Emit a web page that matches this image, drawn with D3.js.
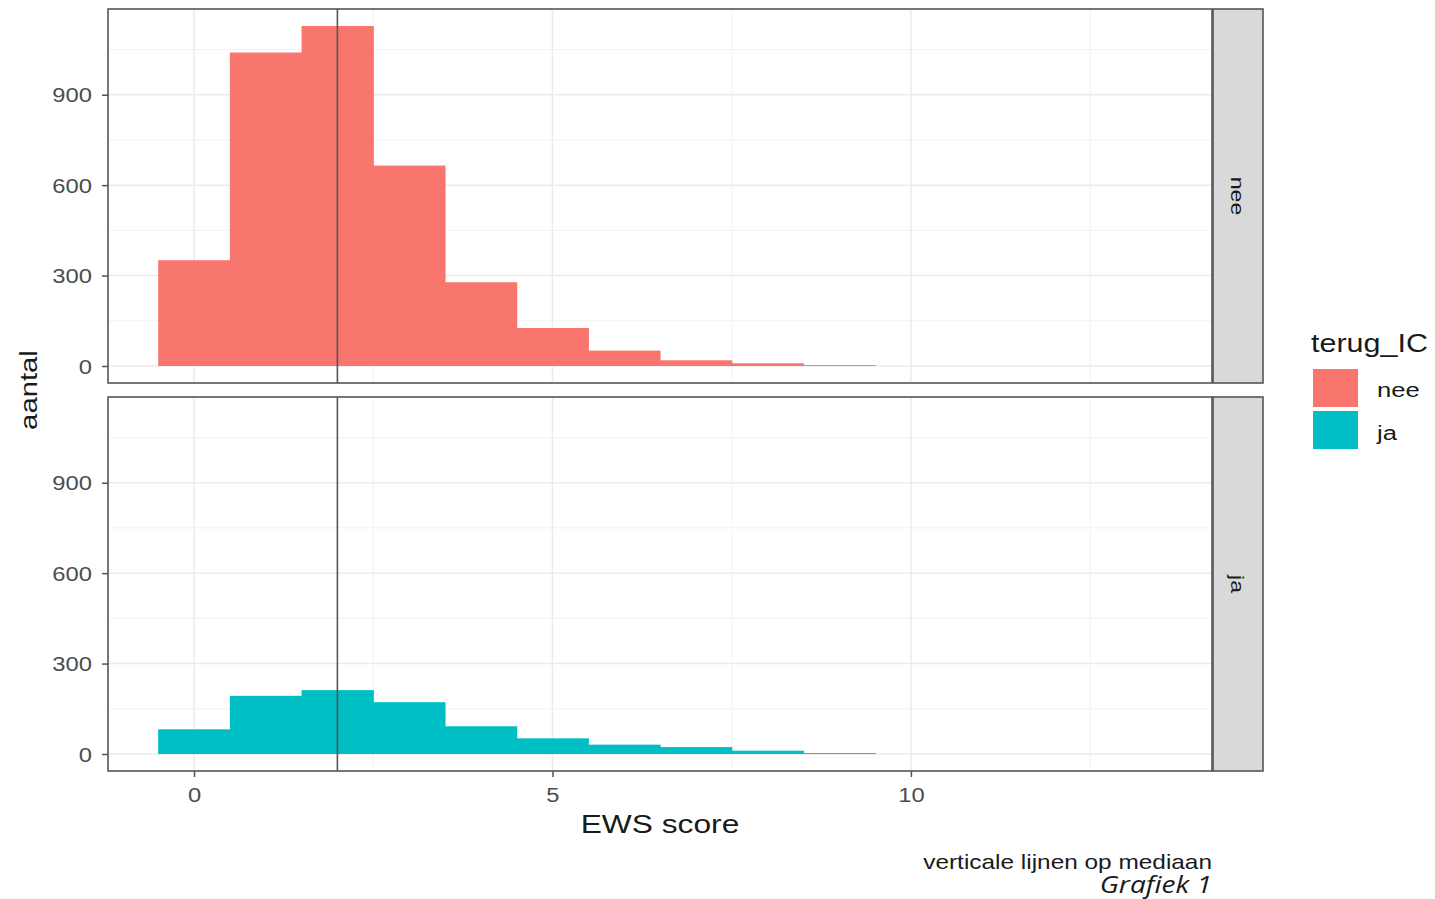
<!DOCTYPE html>
<html>
<head>
<meta charset="utf-8">
<script src="https://cdn.jsdelivr.net/npm/d3@7"></script>
<style>
  body { margin: 0; background: #fff; }
  text { font-family: "Liberation Sans", Arial, sans-serif; }
</style>
</head>
<body>
<div id="chart"></div>
<script>
// EWS score bins (centre of each bin, width 1)
const binCenters = [0, 1, 2, 3, 4, 5, 6, 7, 8, 9, 10, 11, 12, 13];
const neeCounts = [351, 1040, 1128, 665, 278, 126, 51, 19, 9, 3, 0, 0, 0, 0];
const jaCounts = [82, 193, 212, 172, 92, 52, 31, 23, 11, 3, 0, 0, 0, 0];
const groups = ["nee", "ja"];
const groupColors = ["#F8766D", "#00BFC4"];
const medians = [2, 2];
const xTicks = [0, 5, 10];
const yTicks = [0, 300, 600, 900];

const width = 1435, height = 899;
const panelLeft = 108, panelRight = 1212, stripW = 50;
const panelTops = [9, 397], panelH = 374;
const sx = 1.22; // horizontal text stretch seen in the picture

const svg = d3.select("#chart").append("svg")
    .attr("width", width)
    .attr("height", height);

function stretchedText(g, x, y, str, size, anchor, rot) {
    return g.append("text")
        .attr("transform", `translate(${x},${y}) rotate(${rot || 0}) scale(${sx},1)`)
        .attr("text-anchor", anchor)
        .attr("font-size", size)
        .text(str);
}

const x0 = d3.min(binCenters) - 0.5, x1 = d3.max(binCenters) + 0.5;
const xPad = (x1 - x0) * 0.05;
const x = d3.scaleLinear()
    .domain([x0 - xPad, x1 + xPad])
    .range([panelLeft, panelRight]);

const yMax = d3.max(neeCounts.concat(jaCounts));
const yPad = yMax * 0.05;

const series = [neeCounts, jaCounts];

series.forEach((counts, i) => {
    const top = panelTops[i];
    const y = d3.scaleLinear()
        .domain([-yPad, yMax + yPad])
        .range([top + panelH, top]);

    const g = svg.append("g");

    // minor grid
    const xMinor = [2.5, 7.5, 12.5];
    const yMinor = [150, 450, 750, 1050];
    g.selectAll(".xminor").data(xMinor).join("line")
        .attr("x1", d => x(d)).attr("x2", d => x(d))
        .attr("y1", top).attr("y2", top + panelH)
        .attr("stroke", "#f2f2f2").attr("stroke-width", 1);
    g.selectAll(".yminor").data(yMinor).join("line")
        .attr("x1", panelLeft).attr("x2", panelRight)
        .attr("y1", d => y(d)).attr("y2", d => y(d))
        .attr("stroke", "#f2f2f2").attr("stroke-width", 1);
    // major grid
    g.selectAll(".xmajor").data(xTicks).join("line")
        .attr("x1", d => x(d)).attr("x2", d => x(d))
        .attr("y1", top).attr("y2", top + panelH)
        .attr("stroke", "#ebebeb").attr("stroke-width", 1.5);
    g.selectAll(".ymajor").data(yTicks).join("line")
        .attr("x1", panelLeft).attr("x2", panelRight)
        .attr("y1", d => y(d)).attr("y2", d => y(d))
        .attr("stroke", "#ebebeb").attr("stroke-width", 1.5);

    // bars
    g.selectAll("rect.bar")
        .data(binCenters.map((c, j) => ({ c: c, n: counts[j] })).filter(d => d.n > 0))
        .join("rect")
        .attr("class", "bar")
        .attr("x", d => x(d.c - 0.5))
        .attr("width", d => x(d.c + 0.5) - x(d.c - 0.5) + 0.6)
        .attr("y", d => y(d.n))
        .attr("height", d => y(0) - y(d.n))
        .attr("fill", groupColors[i]);

    // median line
    g.append("line")
        .attr("x1", x(medians[i])).attr("x2", x(medians[i]))
        .attr("y1", top).attr("y2", top + panelH)
        .attr("stroke", "#555").attr("stroke-width", 1.6);

    // panel border
    g.append("rect")
        .attr("x", panelLeft).attr("y", top)
        .attr("width", panelRight - panelLeft).attr("height", panelH)
        .attr("fill", "none").attr("stroke", "#555").attr("stroke-width", 1.6);

    // strip
    g.append("rect")
        .attr("x", panelRight + 1).attr("y", top)
        .attr("width", stripW).attr("height", panelH)
        .attr("fill", "#d9d9d9").attr("stroke", "#555").attr("stroke-width", 1.6);
    stretchedText(g, panelRight + 1 + stripW / 2 - 7, top + panelH / 2, groups[i], 19, "middle", 90)
        .attr("fill", "#1a1a1a");

    // y axis
    const yAxis = g.append("g")
        .attr("transform", `translate(${panelLeft},0)`)
        .call(d3.axisLeft(y).tickValues(yTicks).tickSize(6).tickPadding(5));
    yAxis.select(".domain").remove();
    yAxis.selectAll(".tick line").attr("stroke", "#555").attr("stroke-width", 1.5);
    yAxis.selectAll(".tick text")
        .attr("font-size", 19.5)
        .attr("font-family", "Liberation Sans, Arial, sans-serif")
        .attr("fill", "#4d4d4d")
        .attr("dy", "0.36em")
        .attr("x", null)
        .attr("transform", `translate(-16,0) scale(${sx},1)`);

    if (i === 1) {
        const xAxis = g.append("g")
            .attr("transform", `translate(0,${top + panelH})`)
            .call(d3.axisBottom(x).tickValues(xTicks).tickSize(6).tickPadding(11));
        xAxis.select(".domain").remove();
        xAxis.selectAll(".tick line").attr("stroke", "#555").attr("stroke-width", 1.5);
        xAxis.selectAll(".tick text")
            .attr("font-size", 19.5)
            .attr("font-family", "Liberation Sans, Arial, sans-serif")
            .attr("fill", "#4d4d4d")
            .attr("transform", `scale(${sx},1)`);
    }
});

// axis titles
stretchedText(svg, (panelLeft + panelRight) / 2, 833, "EWS score", 26, "middle").attr("fill", "#1a1a1a");
stretchedText(svg, 37, (panelTops[0] + panelTops[1] + panelH) / 2, "aantal", 24, "middle", -90).attr("fill", "#1a1a1a");

// legend
const legend = svg.append("g");
stretchedText(legend, 1311, 352, "terug_IC", 25, "start").attr("fill", "#1a1a1a");
legend.selectAll("rect").data(groups).join("rect")
    .attr("x", 1313)
    .attr("y", (d, i) => 369 + i * 42)
    .attr("width", 45).attr("height", 38)
    .attr("fill", (d, i) => groupColors[i]);
groups.forEach((gname, i) => {
    stretchedText(legend, 1377, 397 + i * 43, gname, 21, "start").attr("fill", "#1a1a1a");
});

// caption
stretchedText(svg, 1212, 869, "verticale lijnen op mediaan", 20, "end").attr("fill", "#1a1a1a");
stretchedText(svg, 1212, 893, "Grafiek 1", 23, "end")
    .attr("font-style", "italic")
    .style("font-family", "'Open Sans', sans-serif")
    .attr("fill", "#1a1a1a");
</script>
</body>
</html>
